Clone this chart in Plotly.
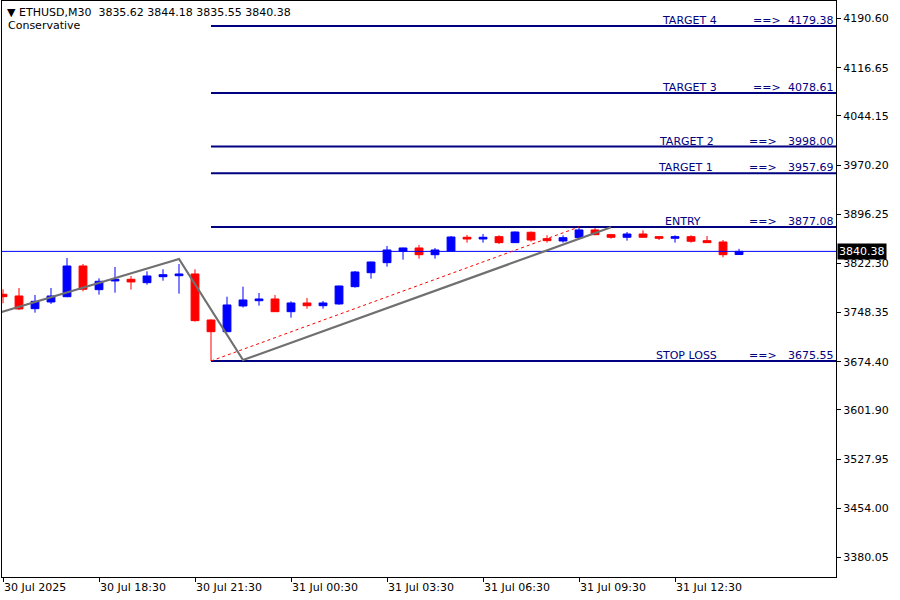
import plotly.graph_objects as go

# ---------------- data ----------------
bar_index = list(range(47))
opens = [3775.9, 3773.3, 3754.2, 3764.3, 3772.2, 3818.4, 3782.8, 3795.9, 3798.4, 3793.3,
         3802.3, 3803.8, 3806.4, 3737.2, 3719.6, 3758.3, 3766.2, 3768.8, 3749.7, 3762.8,
         3758.7, 3761.3, 3787.3, 3808.3, 3823.4, 3840.5, 3845.5, 3835.4, 3841.0, 3861.6,
         3859.0, 3862.5, 3853.5, 3869.1, 3859.5, 3856.0, 3861.0, 3872.6, 3865.5, 3861.6,
         3866.5, 3862.5, 3860.1, 3862.5, 3856.5, 3854.5, 3835.62]
highs = [3783.4, 3785.3, 3774.8, 3785.3, 3830.4, 3821.4, 3799.9, 3816.9, 3803.4, 3810.4,
         3813.5, 3821.4, 3813.5, 3738.0, 3772.2, 3787.3, 3777.8, 3774.8, 3765.3, 3770.3,
         3765.8, 3788.8, 3810.9, 3825.0, 3848.5, 3846.0, 3850.0, 3845.5, 3863.5, 3865.0,
         3866.5, 3864.6, 3870.3, 3870.3, 3864.6, 3864.6, 3877.08, 3876.6, 3866.5, 3869.5,
         3872.1, 3863.5, 3864.6, 3864.6, 3863.5, 3857.5, 3844.18]
lows = [3762.3, 3752.2, 3748.2, 3761.3, 3771.5, 3780.4, 3775.3, 3778.3, 3782.8, 3790.3,
        3796.3, 3776.8, 3734.7, 3675.55, 3719.0, 3756.0, 3758.7, 3749.2, 3740.7, 3754.2,
        3754.2, 3760.2, 3785.8, 3799.3, 3817.4, 3827.9, 3829.4, 3829.4, 3840.5, 3853.5,
        3853.5, 3851.5, 3853.0, 3855.0, 3853.5, 3853.5, 3860.5, 3864.6, 3859.5, 3856.5,
        3861.0, 3857.5, 3853.5, 3853.5, 3853.0, 3831.5, 3835.55]
closes = [3772.2, 3753.8, 3765.3, 3773.3, 3818.4, 3783.4, 3795.4, 3798.4, 3794.4, 3803.4,
          3805.3, 3806.4, 3736.2, 3719.6, 3759.8, 3767.3, 3768.8, 3749.7, 3762.8, 3758.7,
          3762.8, 3788.3, 3809.4, 3824.4, 3842.5, 3845.5, 3835.4, 3842.5, 3862.0, 3859.0,
          3861.6, 3853.5, 3869.5, 3857.5, 3856.5, 3861.0, 3872.6, 3865.5, 3861.6, 3866.5,
          3861.6, 3860.1, 3862.5, 3855.6, 3853.5, 3835.4, 3840.38]

time_tick_bars = [0, 6, 12, 18, 24, 30, 36, 42]
time_tick_labels = ["30 Jul 2025", "30 Jul 18:30", "30 Jul 21:30", "31 Jul 00:30",
                    "31 Jul 03:30", "31 Jul 06:30", "31 Jul 09:30", "31 Jul 12:30"]

price_ticks = [4190.60, 4116.65, 4044.15, 3970.20, 3896.25, 3822.30,
               3748.35, 3674.40, 3601.90, 3527.95, 3454.00, 3380.05]

level_names = ["TARGET 4", "TARGET 3", "TARGET 2", "TARGET 1", "ENTRY", "STOP LOSS"]
level_prices = [4179.38, 4078.61, 3998.00, 3957.69, 3877.08, 3675.55]
level_start_bar = 13

zigzag_bars = [-1, 11, 15, 38]
zigzag_prices = [3742.6, 3829.0, 3677.0, 3876.6]

dotted_bars = [13, 36]
dotted_prices = [3675.55, 3877.08]

last_price = 3840.38
symbol_header = "ETHUSD,M30\u00a0\u00a03835.62 3844.18 3835.55 3840.38"
strategy_name = "Conservative"

# ---------------- style ----------------
FONT = "DejaVu Sans"
NAVY = "#000080"
X_RANGE = [-0.0625, 52.06]
Y_RANGE = [3350.7, 4216.9]

fig = go.Figure()

fig.add_trace(go.Candlestick(
    x=bar_index, open=opens, high=highs, low=lows, close=closes,
    increasing=dict(line=dict(color="#0000FF", width=1), fillcolor="#0000FF"),
    decreasing=dict(line=dict(color="#FF0000", width=1), fillcolor="#FF0000"),
    whiskerwidth=0, showlegend=False, hoverinfo="skip"))

# level lines
for p in level_prices:
    fig.add_trace(go.Scatter(x=[level_start_bar, X_RANGE[1] + 1], y=[p, p], mode="lines",
                             line=dict(color=NAVY, width=2), showlegend=False, hoverinfo="skip"))

# current price line
fig.add_trace(go.Scatter(x=[X_RANGE[0] - 1, X_RANGE[1] + 1], y=[last_price, last_price], mode="lines",
                         line=dict(color="#0000FF", width=1), showlegend=False, hoverinfo="skip"))

# red dotted trend
fig.add_trace(go.Scatter(x=dotted_bars, y=dotted_prices, mode="lines",
                         line=dict(color="#FF0000", width=1, dash="3px,3px"),
                         showlegend=False, hoverinfo="skip"))

# gray zigzag
fig.add_trace(go.Scatter(x=zigzag_bars, y=zigzag_prices, mode="lines",
                         line=dict(color="#707070", width=2.2), showlegend=False, hoverinfo="skip"))


def xp(px):
    return (px - 2) / 834.0


annotations = []
name_x = [689.5, 689.5, 686, 685.5, 682.5, 686.5]
arrow_x = [766.5, 766.5, 763, 763, 763, 763]
for name, p, nx, ax in zip(level_names, level_prices, name_x, arrow_x):
    fnt = dict(family=FONT, size=11, color=NAVY)
    annotations.append(dict(x=xp(nx), y=p, xref="paper", yref="y", text=name, showarrow=False,
                            xanchor="center", yanchor="bottom", yshift=-3, font=fnt))
    annotations.append(dict(x=xp(ax), y=p, xref="paper", yref="y", text="==>", showarrow=False,
                            xanchor="center", yanchor="bottom", yshift=-3, font=fnt))
    annotations.append(dict(x=xp(836), y=p, xref="paper", yref="y", text=f"{p:.2f}", showarrow=False,
                            xanchor="right", yanchor="bottom", yshift=-3, font=fnt))

annotations.append(dict(x=0, y=1, xref="paper", yref="paper", text="\u25BC " + symbol_header,
                        showarrow=False, xanchor="left", yanchor="top", xshift=3, yshift=-3,
                        font=dict(family=FONT, size=11, color="black")))
annotations.append(dict(x=0, y=1, xref="paper", yref="paper", text=strategy_name,
                        showarrow=False, xanchor="left", yanchor="top", xshift=4, yshift=-16,
                        font=dict(family=FONT, size=11, color="black")))
annotations.append(dict(x=1, y=last_price, xref="paper", yref="y", text=f"{last_price:.2f}",
                        showarrow=False, xanchor="left", yanchor="middle", xshift=1,
                        bgcolor="black", borderpad=1,
                        font=dict(family=FONT, size=11, color="white")))

fig.update_layout(
    width=900, height=600,
    margin=dict(l=2, r=64, t=1, b=23, autoexpand=False),
    paper_bgcolor="white", plot_bgcolor="white",
    showlegend=False,
    annotations=annotations,
    xaxis=dict(range=X_RANGE, rangeslider=dict(visible=False), showgrid=False, zeroline=False,
               automargin=False,
               tickmode="array", tickvals=time_tick_bars, ticktext=time_tick_labels,
               ticks="outside", ticklen=4, tickcolor="black",
               ticklabelposition="outside right",
               showline=True, linecolor="black", linewidth=1, mirror=True,
               tickfont=dict(family=FONT, size=11, color="black")),
    yaxis=dict(range=Y_RANGE, side="right", showgrid=False, zeroline=False,
               automargin=False,
               tickmode="array", tickvals=price_ticks, ticktext=[f"{v:.2f}" for v in price_ticks],
               ticks="outside", ticklen=4, tickcolor="black",
               showline=True, linecolor="black", linewidth=1, mirror=True,
               tickfont=dict(family=FONT, size=11, color="black")),
)

fig.write_html("out.html", config={"displayModeBar": False},
               post_script="document.body.style.margin='0';document.body.style.padding='0';"
                           "document.body.style.overflow='hidden';")
